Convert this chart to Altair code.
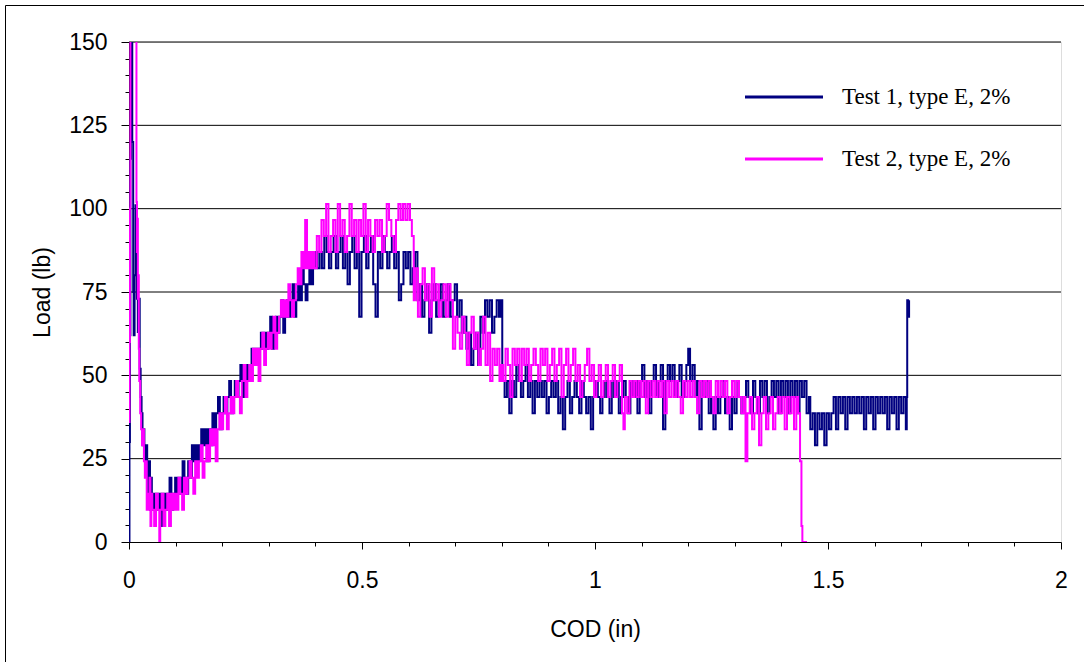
import altair as alt
import pandas as pd

# ---------------- data (COD in, Load lb) ----------------
t1_start = [(0.000, 0), (0.001, 30), (0.002, 62), (0.003, 115), (0.004, 160), (0.007, 120),
            (0.009, 75), (0.010, 62), (0.012, 80), (0.014, 101), (0.016, 96), (0.017, 73),
            (0.019, 63), (0.021, 73), (0.023, 52), (0.025, 43.5), (0.027, 38.6), (0.029, 29.0),
            (0.031, 33.8), (0.033, 29.0), (0.035, 24.2), (0.037, 29.0), (0.039, 24.2),
            (0.041, 14.5), (0.043, 24.2), (0.045, 9.7), (0.047, 19.3), (0.049, 9.7)]

t1_rise = [(0.051, 14.5), (0.055, 9.7), (0.059, 14.5), (0.063, 9.7), (0.067, 14.5), (0.071, 4.8),
           (0.075, 14.5), (0.079, 9.7), (0.083, 14.5), (0.087, 19.3), (0.091, 9.7), (0.095, 14.5),
           (0.099, 19.3), (0.103, 14.5), (0.107, 19.3), (0.111, 14.5), (0.115, 24.2), (0.119, 19.3),
           (0.123, 14.5), (0.127, 24.2), (0.131, 19.3), (0.135, 29.0), (0.139, 24.2), (0.143, 29.0),
           (0.147, 24.2), (0.151, 29.0), (0.155, 33.8), (0.159, 29.0), (0.163, 33.8), (0.167, 24.2),
           (0.171, 33.8), (0.175, 29.0), (0.179, 38.6), (0.183, 33.8), (0.187, 38.6), (0.191, 43.5),
           (0.195, 33.8), (0.199, 38.6), (0.203, 43.5), (0.207, 38.6), (0.211, 43.5), (0.215, 48.3),
           (0.219, 38.6), (0.223, 43.5), (0.227, 48.3), (0.231, 43.5), (0.235, 48.3), (0.239, 53.1),
           (0.243, 43.5), (0.247, 48.3), (0.251, 53.1), (0.255, 48.3), (0.259, 53.1), (0.263, 58.0),
           (0.267, 53.1), (0.271, 58.0), (0.275, 53.1), (0.279, 58.0), (0.283, 62.8), (0.287, 58.0),
           (0.291, 62.8), (0.295, 58.0), (0.299, 62.8), (0.303, 67.6), (0.307, 58.0), (0.311, 62.8),
           (0.315, 67.6), (0.319, 62.8), (0.323, 67.6), (0.327, 72.5), (0.331, 62.8), (0.335, 67.6),
           (0.339, 72.5), (0.343, 67.6), (0.347, 72.5), (0.351, 77.3), (0.355, 67.6), (0.359, 72.5),
           (0.363, 77.3), (0.367, 72.5), (0.371, 82.1), (0.375, 77.3), (0.379, 72.5), (0.383, 77.3),
           (0.387, 82.1), (0.391, 77.3), (0.395, 82.1), (0.399, 87.0)]

t1_peak = [(0.404, 82.1), (0.409, 87.0), (0.414, 82.1), (0.419, 91.8), (0.424, 87.0), (0.429, 82.1),
           (0.434, 87.0), (0.439, 91.8), (0.444, 82.1), (0.449, 87.0), (0.454, 91.8), (0.459, 82.1),
           (0.464, 87.0), (0.469, 77.3), (0.474, 87.0), (0.479, 91.8), (0.484, 82.1), (0.489, 87.0),
           (0.494, 67.6), (0.499, 87.0), (0.504, 91.8), (0.509, 82.1), (0.514, 87.0), (0.519, 91.8),
           (0.524, 77.3), (0.529, 67.6), (0.534, 87.0), (0.539, 82.1), (0.544, 91.8), (0.549, 87.0),
           (0.554, 82.1), (0.559, 87.0), (0.564, 91.8), (0.569, 82.1), (0.574, 87.0), (0.579, 72.5),
           (0.584, 77.3), (0.589, 87.0), (0.594, 82.1), (0.599, 87.0), (0.604, 77.3), (0.609, 82.1),
           (0.614, 87.0), (0.619, 72.5), (0.624, 77.3), (0.629, 67.6), (0.634, 72.5), (0.639, 77.3),
           (0.644, 62.8), (0.649, 72.5), (0.654, 77.3), (0.659, 67.6), (0.664, 72.5), (0.669, 77.3),
           (0.674, 67.6), (0.679, 72.5), (0.684, 77.3), (0.689, 67.6), (0.694, 72.5), (0.699, 77.3),
           (0.704, 67.6), (0.709, 72.5), (0.714, 62.8), (0.719, 67.6), (0.724, 58.0), (0.729, 62.8),
           (0.734, 53.1), (0.739, 58.0), (0.744, 62.8), (0.749, 53.1), (0.754, 67.6), (0.759, 62.8),
           (0.764, 72.5), (0.769, 67.6), (0.774, 72.5), (0.779, 62.8), (0.784, 67.6), (0.789, 72.5),
           (0.794, 67.6), (0.798, 72.5)]

t1_tail1 = [(0.801, 48.3), (0.806, 43.5), (0.811, 48.3), (0.816, 38.6), (0.821, 48.3), (0.826, 43.5),
            (0.831, 53.1), (0.836, 48.3), (0.841, 43.5), (0.846, 48.3), (0.851, 53.1), (0.856, 43.5),
            (0.861, 48.3), (0.866, 38.6), (0.871, 48.3), (0.876, 43.5), (0.881, 48.3), (0.886, 43.5),
            (0.891, 48.3), (0.896, 38.6), (0.901, 43.5), (0.906, 48.3), (0.911, 43.5), (0.916, 48.3),
            (0.921, 38.6), (0.926, 43.5), (0.931, 33.8), (0.936, 43.5), (0.941, 48.3), (0.946, 38.6),
            (0.951, 43.5), (0.956, 48.3), (0.961, 43.5), (0.966, 38.6), (0.971, 48.3), (0.976, 43.5),
            (0.981, 38.6), (0.986, 43.5), (0.991, 33.8), (0.996, 43.5), (1.001, 48.3), (1.006, 43.5),
            (1.011, 38.6), (1.016, 43.5), (1.021, 48.3), (1.026, 43.5), (1.031, 38.6), (1.036, 48.3),
            (1.041, 43.5), (1.046, 48.3), (1.051, 38.6), (1.056, 43.5), (1.061, 48.3), (1.066, 43.5),
            (1.071, 38.6), (1.076, 48.3), (1.081, 43.5), (1.086, 48.3), (1.091, 38.6), (1.096, 48.3),
            (1.101, 53.1), (1.106, 43.5), (1.111, 48.3), (1.116, 38.6), (1.121, 48.3), (1.126, 53.1),
            (1.131, 43.5), (1.136, 48.3), (1.141, 53.1), (1.146, 33.8), (1.151, 48.3), (1.156, 53.1),
            (1.161, 48.3), (1.166, 53.1), (1.171, 43.5), (1.176, 48.3), (1.181, 53.1), (1.186, 43.5),
            (1.191, 48.3), (1.196, 53.1), (1.200, 58.0), (1.204, 48.3), (1.209, 53.1), (1.214, 43.5),
            (1.219, 48.3), (1.224, 33.8), (1.229, 48.3), (1.234, 43.5), (1.239, 48.3)]

t1_tail2 = [(1.244, 38.6), (1.249, 43.5), (1.254, 33.8), (1.259, 43.5), (1.264, 38.6), (1.269, 43.5),
            (1.274, 48.3), (1.279, 38.6), (1.284, 43.5), (1.289, 33.8), (1.294, 43.5), (1.299, 38.6),
            (1.304, 48.3), (1.309, 43.5), (1.314, 38.6), (1.319, 43.5), (1.324, 48.3), (1.329, 43.5),
            (1.334, 38.6), (1.339, 48.3), (1.344, 43.5), (1.349, 38.6), (1.354, 48.3), (1.359, 43.5),
            (1.364, 48.3), (1.369, 38.6), (1.374, 43.5), (1.379, 48.3), (1.384, 43.5), (1.389, 48.3),
            (1.394, 38.6), (1.399, 48.3), (1.404, 43.5), (1.409, 48.3), (1.414, 38.6), (1.419, 48.3),
            (1.424, 43.5), (1.429, 48.3), (1.434, 38.6), (1.439, 48.3), (1.444, 43.5), (1.449, 48.3),
            (1.454, 38.6), (1.459, 43.5), (1.462, 33.8), (1.467, 38.6), (1.472, 29.0), (1.477, 38.6),
            (1.482, 33.8), (1.487, 38.6), (1.492, 29.0), (1.497, 38.6), (1.502, 33.8), (1.507, 38.6),
            (1.512, 43.5), (1.517, 33.8), (1.522, 43.5), (1.527, 38.6), (1.532, 43.5), (1.537, 33.8),
            (1.542, 43.5), (1.547, 38.6), (1.552, 43.5), (1.557, 38.6), (1.562, 43.5), (1.567, 38.6),
            (1.572, 43.5), (1.577, 33.8), (1.582, 43.5), (1.587, 38.6), (1.592, 43.5), (1.597, 33.8),
            (1.602, 43.5), (1.607, 38.6), (1.612, 43.5), (1.617, 38.6), (1.622, 43.5), (1.627, 33.8),
            (1.632, 43.5), (1.637, 38.6), (1.642, 43.5), (1.647, 33.8), (1.652, 43.5), (1.657, 38.6),
            (1.662, 43.5), (1.667, 33.8), (1.669, 43.5), (1.670, 72.5), (1.672, 67.6), (1.674, 72.5)]

t2_start = [(0.000, 36), (0.001, 60), (0.002, 100), (0.003, 160), (0.010, 165), (0.015, 160),
            (0.016, 102), (0.017, 87), (0.018, 97), (0.019, 73), (0.020, 80), (0.021, 58),
            (0.022, 48.3), (0.024, 38.6), (0.026, 33.8), (0.028, 29.0), (0.030, 33.8), (0.032, 24.2),
            (0.034, 19.3), (0.036, 24.2), (0.038, 9.7), (0.040, 14.5), (0.042, 9.7), (0.044, 19.3),
            (0.046, 4.8), (0.048, 14.5)]

t2_rise = [(0.050, 9.7), (0.054, 4.8), (0.058, 14.5), (0.062, 9.7), (0.065, 0.0), (0.067, 9.7),
           (0.070, 14.5), (0.074, 4.8), (0.078, 9.7), (0.082, 14.5), (0.086, 4.8), (0.090, 14.5),
           (0.094, 9.7), (0.098, 14.5), (0.102, 9.7), (0.106, 19.3), (0.110, 14.5), (0.114, 9.7),
           (0.118, 19.3), (0.122, 14.5), (0.126, 19.3), (0.130, 24.2), (0.134, 19.3), (0.138, 14.5),
           (0.142, 24.2), (0.146, 19.3), (0.150, 24.2), (0.154, 29.0), (0.158, 19.3), (0.162, 24.2),
           (0.166, 29.0), (0.170, 24.2), (0.174, 33.8), (0.178, 29.0), (0.182, 33.8), (0.186, 24.2),
           (0.190, 33.8), (0.194, 38.6), (0.198, 33.8), (0.202, 38.6), (0.206, 43.5), (0.210, 33.8),
           (0.214, 38.6), (0.218, 43.5), (0.222, 38.6), (0.226, 43.5), (0.230, 48.3), (0.234, 43.5),
           (0.238, 38.6), (0.242, 48.3), (0.246, 53.1), (0.250, 43.5), (0.254, 48.3), (0.258, 53.1),
           (0.262, 48.3), (0.266, 58.0), (0.270, 53.1), (0.274, 58.0), (0.278, 48.3), (0.282, 58.0),
           (0.286, 62.8), (0.290, 53.1), (0.294, 58.0), (0.298, 62.8), (0.302, 58.0), (0.306, 62.8),
           (0.310, 67.6), (0.314, 58.0), (0.318, 62.8), (0.322, 67.6), (0.326, 72.5), (0.330, 67.6),
           (0.334, 72.5), (0.338, 67.6), (0.342, 77.3), (0.346, 72.5), (0.350, 67.6), (0.354, 72.5),
           (0.358, 77.3), (0.362, 82.1), (0.366, 77.3), (0.370, 87.0), (0.374, 82.1), (0.378, 96.6),
           (0.382, 82.1), (0.386, 87.0), (0.390, 82.1), (0.394, 87.0), (0.398, 82.1)]

t2_peak = [(0.403, 91.8), (0.408, 87.0), (0.413, 96.6), (0.418, 91.8), (0.423, 101.4), (0.428, 87.0),
           (0.433, 91.8), (0.438, 96.6), (0.443, 87.0), (0.448, 101.4), (0.453, 91.8), (0.458, 96.6),
           (0.463, 87.0), (0.468, 91.8), (0.473, 101.4), (0.478, 91.8), (0.483, 96.6), (0.488, 87.0),
           (0.493, 96.6), (0.498, 91.8), (0.503, 101.4), (0.508, 87.0), (0.513, 96.6), (0.518, 91.8),
           (0.523, 87.0), (0.528, 96.6), (0.533, 91.8), (0.538, 96.6), (0.543, 87.0), (0.548, 91.8),
           (0.553, 101.4), (0.558, 96.6), (0.563, 91.8), (0.568, 87.0), (0.573, 96.6), (0.578, 101.4),
           (0.583, 96.6), (0.588, 101.4), (0.593, 96.6), (0.598, 101.4), (0.603, 96.6), (0.607, 91.8),
           (0.611, 72.5)]

t2_fall = [(0.615, 82.1), (0.620, 67.6), (0.625, 77.3), (0.630, 82.1), (0.635, 72.5), (0.640, 77.3),
           (0.645, 67.6), (0.650, 82.1), (0.655, 72.5), (0.660, 77.3), (0.665, 67.6), (0.670, 72.5),
           (0.675, 77.3), (0.680, 67.6), (0.685, 77.3), (0.690, 72.5), (0.695, 58.0), (0.700, 67.6),
           (0.705, 62.8), (0.710, 58.0), (0.715, 67.6), (0.720, 62.8), (0.725, 53.1), (0.730, 62.8),
           (0.735, 67.6), (0.740, 58.0), (0.745, 62.8), (0.750, 53.1), (0.755, 58.0), (0.760, 67.6),
           (0.765, 53.1), (0.770, 62.8), (0.775, 48.3), (0.780, 58.0), (0.785, 53.1), (0.790, 58.0),
           (0.795, 48.3), (0.799, 53.1)]

t2_tail = [(0.803, 48.3), (0.808, 58.0), (0.813, 53.1), (0.818, 43.5), (0.823, 58.0), (0.828, 53.1),
           (0.833, 58.0), (0.838, 48.3), (0.843, 58.0), (0.848, 53.1), (0.853, 58.0), (0.858, 48.3),
           (0.863, 53.1), (0.868, 58.0), (0.873, 53.1), (0.878, 48.3), (0.883, 58.0), (0.888, 53.1),
           (0.893, 58.0), (0.898, 48.3), (0.903, 53.1), (0.908, 58.0), (0.913, 48.3), (0.918, 53.1),
           (0.923, 58.0), (0.928, 43.5), (0.933, 53.1), (0.938, 58.0), (0.943, 48.3), (0.948, 53.1),
           (0.953, 58.0), (0.958, 48.3), (0.963, 53.1), (0.968, 43.5), (0.973, 48.3), (0.978, 53.1),
           (0.983, 58.0), (0.988, 48.3), (0.993, 53.1), (0.998, 43.5), (1.003, 48.3), (1.008, 53.1),
           (1.013, 43.5), (1.018, 48.3), (1.023, 53.1), (1.028, 43.5), (1.033, 48.3), (1.038, 53.1),
           (1.043, 43.5), (1.048, 48.3), (1.053, 53.1), (1.058, 38.6), (1.061, 33.8), (1.064, 43.5),
           (1.069, 38.6), (1.074, 48.3), (1.079, 43.5), (1.084, 48.3), (1.089, 43.5), (1.094, 48.3),
           (1.099, 43.5), (1.104, 48.3), (1.109, 38.6), (1.114, 48.3), (1.119, 43.5), (1.124, 48.3),
           (1.129, 43.5), (1.134, 48.3), (1.139, 43.5), (1.144, 48.3), (1.149, 38.6), (1.154, 48.3),
           (1.159, 43.5), (1.164, 48.3), (1.169, 43.5), (1.174, 48.3), (1.179, 43.5), (1.184, 38.6),
           (1.189, 48.3), (1.194, 43.5), (1.199, 48.3), (1.204, 43.5), (1.209, 48.3), (1.214, 43.5),
           (1.219, 38.6), (1.224, 48.3), (1.229, 43.5), (1.234, 48.3), (1.239, 43.5), (1.244, 48.3),
           (1.249, 43.5), (1.254, 38.6), (1.259, 48.3), (1.264, 43.5), (1.269, 48.3), (1.274, 43.5),
           (1.279, 48.3), (1.284, 38.6), (1.289, 43.5), (1.294, 48.3), (1.299, 43.5), (1.304, 48.3),
           (1.309, 43.5), (1.314, 38.6), (1.319, 43.5), (1.323, 24.2), (1.327, 38.6), (1.332, 43.5),
           (1.337, 33.8), (1.342, 38.6), (1.347, 43.5), (1.352, 29.0), (1.357, 38.6), (1.362, 43.5),
           (1.367, 33.8), (1.372, 38.6), (1.377, 43.5), (1.382, 33.8), (1.387, 38.6), (1.392, 43.5),
           (1.397, 38.6), (1.402, 43.5), (1.407, 33.8), (1.412, 43.5), (1.417, 38.6), (1.422, 43.5),
           (1.427, 33.8), (1.432, 43.5), (1.436, 38.6), (1.440, 24.2), (1.443, 4.8), (1.445, 0.0),
           (1.455, 0.0)]

series_labels = ["Test 1, type E, 2%", "Test 2, type E, 2%"]
series_colors = ["#000080", "#FF00FF"]
x_tick_values = [0, 0.1, 0.2, 0.3, 0.4, 0.5, 0.6, 0.7, 0.8, 0.9, 1.0,
                 1.1, 1.2, 1.3, 1.4, 1.5, 1.6, 1.7, 1.8, 1.9, 2.0]
y_tick_values = [0, 5, 10, 15, 20, 25, 30, 35, 40, 45, 50, 55, 60, 65, 70, 75,
                 80, 85, 90, 95, 100, 105, 110, 115, 120, 125, 130, 135, 140, 145, 150]
y_grid_values = [25, 50, 75, 100, 125, 150]


def to_frame(segments, label):
    rows = [p for seg in segments for p in seg]
    return pd.DataFrame({
        "cod": [r[0] for r in rows],
        "load": [r[1] for r in rows],
        "idx": list(range(len(rows))),
        "series": label,
    })


df1 = to_frame([t1_start, t1_rise, t1_peak, t1_tail1, t1_tail2], series_labels[0])
df2 = to_frame([t2_start, t2_rise, t2_peak, t2_fall, t2_tail], series_labels[1])
grid_df = pd.DataFrame({"load": y_grid_values})

FONT = "Liberation Sans"

X_SCALE = alt.Scale(domain=[0, 2], nice=False, zero=False)
Y_SCALE = alt.Scale(domain=[0, 150], nice=False, zero=False)

X_AXIS = alt.Axis(
    title="COD (in)",
    values=x_tick_values,
    labelExpr="datum.value % 0.5 === 0 ? format(datum.value, '~g') : ''",
    tickSize={"condition": {"test": "datum.value % 0.5 === 0", "value": 7}, "value": 4},
    grid=False,
    labelOverlap=False,
    labelPadding=20,
    labelFont=FONT, labelFontSize=23, labelColor="black",
    titleFont=FONT, titleFontSize=23, titleFontWeight="normal", titleColor="black",
    titleBaseline="alphabetic", titleY=94,
    domainColor="black", tickColor="black", labelFlush=False,
)
Y_AXIS = alt.Axis(
    title="Load (lb)",
    values=y_tick_values,
    labelExpr="datum.value % 25 === 0 ? format(datum.value, 'd') : ''",
    tickSize={"condition": {"test": "datum.value % 25 === 0", "value": 8}, "value": 4},
    grid=False,
    labelOverlap=False,
    labelPadding=14,
    labelFont=FONT, labelFontSize=23, labelColor="black",
    titleFont=FONT, titleFontSize=23, titleFontWeight="normal", titleColor="black",
    titleBaseline="alphabetic", titleX=-80, titleY=250, titleAngle=270,
    domainColor="black", tickColor="black", labelFlush=False,
)


def xenc():
    return alt.X("cod:Q", scale=X_SCALE, axis=X_AXIS)


def yenc():
    return alt.Y("load:Q", scale=Y_SCALE, axis=Y_AXIS)


grid = alt.Chart(grid_df).mark_rule(color="black", strokeWidth=1).encode(y=yenc())

line1 = alt.Chart(df1).mark_line(color=series_colors[0], strokeWidth=2, clip=True,
                                 interpolate="step-after").encode(
    x=xenc(), y=yenc(), order="idx:Q")
line2 = alt.Chart(df2).mark_line(color=series_colors[1], strokeWidth=2, clip=True,
                                 interpolate="step-after").encode(
    x=xenc(), y=yenc(), order="idx:Q")

one = pd.DataFrame({"k": [0]})
legend_layers = []
for i, (lab, col) in enumerate(zip(series_labels, series_colors)):
    ypix = 55 + 62 * i
    legend_layers.append(
        alt.Chart(one).mark_rule(color=col, strokeWidth=3).encode(
            x=alt.value(616), x2=alt.value(694), y=alt.value(ypix)))
    legend_layers.append(
        alt.Chart(one).mark_text(align="left", baseline="middle", font="Liberation Serif",
                                 fontSize=23, color="black", text=lab).encode(
            x=alt.value(713), y=alt.value(ypix)))

frame = alt.Chart(one).mark_rect(fillOpacity=0, stroke="black", strokeWidth=1, clip=False).encode(
    x=alt.value(-123.5), x2=alt.value(1000), y=alt.value(-36.5), y2=alt.value(660))

chart = alt.layer(frame, grid, line1, line2, *legend_layers).properties(
    width=932, height=500,
    padding={"left": 129, "top": 42, "right": 23, "bottom": 120},
    autosize=alt.AutoSizeParams(type="none"),
).configure_view(stroke="#404040", strokeWidth=1).configure(background="white")

chart.save("out.html", embed_options={"renderer": "svg", "actions": False})
